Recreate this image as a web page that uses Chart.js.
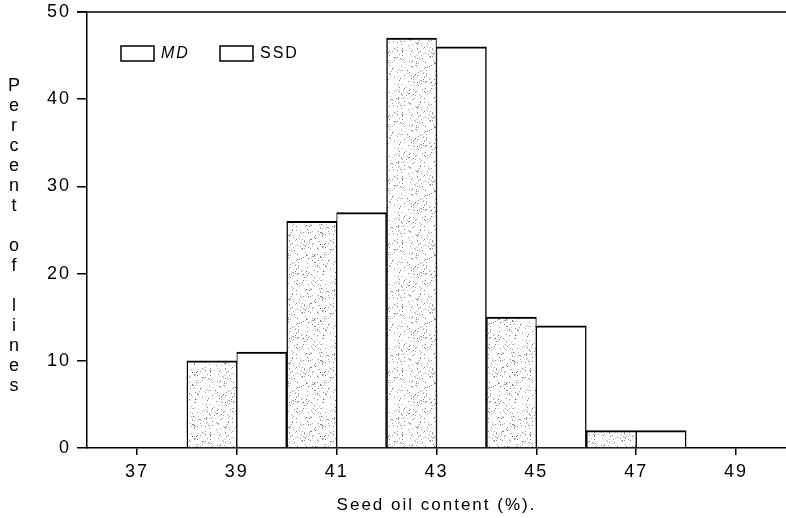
<!DOCTYPE html>
<html><head><meta charset="utf-8">
<script src="https://cdn.jsdelivr.net/npm/chart.js@4.4.0/dist/chart.umd.min.js"></script>
<style>html,body{margin:0;padding:0;background:#fff;} canvas{display:block;}</style>
</head><body>
<canvas id="c" width="786" height="518"></canvas>
<script>
// ---- data ----
const categories = ['37','39','41','43','45','47','49'];
const seriesNames = ['MD','SSD'];
const mdValues  = [0,10,26,47,15,2,0];
const ssdValues = [0,11,27,46,14,2,0];
const yTickValues = [0,10,20,30,40,50];
const xTitle = 'Seed oil content (%).';
const yTitle = 'Percent of lines';

// ---- styling ----
const FONT = "'Liberation Sans', Arial, Helvetica, sans-serif";
Chart.defaults.font.family = FONT;
Chart.defaults.color = '#000';

function makeStipple(ctx){
  const c = document.createElement('canvas'); c.width = 64; c.height = 64;
  const g = c.getContext('2d');
  g.fillStyle = '#fff'; g.fillRect(0,0,64,64);
  for (let y=0;y<64;y++) for (let x=0;x<64;x++){
    let h = (Math.imul(x,374761393) + Math.imul(y,668265263)) >>> 0;
    h = Math.imul(h ^ (h>>>13), 1274126177) >>> 0;
    h = (h ^ (h>>>16)) >>> 0;
    const r = h % 1000;
    if (r < 110){ const s = 110 + (r*7 % 110); g.fillStyle = `rgb(${s},${s},${s})`; g.fillRect(x,y,1,1); }
  }
  return ctx.createPattern(c,'repeat');
}

const ctx = document.getElementById('c').getContext('2d');
const stipple = makeStipple(ctx);

const spacingPlugin = { id:'spacing', beforeDraw(chart){ chart.ctx.letterSpacing = '2px'; } };

const decor = { id:'decor', afterDraw(chart){
  const c = chart.ctx, a = chart.chartArea;
  c.save();
  c.letterSpacing = '0px';
  c.strokeStyle = '#000'; c.lineWidth = 1.5;
  c.beginPath(); c.moveTo(a.left - 10, a.top); c.lineTo(a.right, a.top); c.stroke();
  // vertical stacked y title
  c.font = `18px ${FONT}`; c.fillStyle = '#000'; c.textAlign = 'center'; c.textBaseline = 'middle';
  let y = 86;
  for (const ch of yTitle){ if (ch !== ' ') c.fillText(ch, 14, y); y += 20; }
  // legend
  const items = [
    {name: seriesNames[0], x: 121, italic: true},
    {name: seriesNames[1], x: 220, italic: false}
  ];
  c.lineWidth = 1.5;
  c.textAlign = 'left';
  for (const it of items){
    c.fillStyle = '#fff';
    c.fillRect(it.x, 46, 33, 15);
    c.strokeRect(it.x, 46, 33, 15);
    c.fillStyle = '#000';
    c.letterSpacing = '2px';
    c.font = `${it.italic ? 'italic ' : ''}16px ${FONT}`;
    c.fillText(it.name, it.x + 40, 54);
  }
  c.restore();
}};

new Chart(ctx, {
  type: 'bar',
  data: {
    labels: categories,
    datasets: [
      { label: seriesNames[0], data: mdValues, backgroundColor: stipple, borderColor: '#000',
        borderWidth: {left:1.5, right:1, top:2, bottom:0}, borderSkipped: false,
        categoryPercentage: 1, barPercentage: 1 },
      { label: seriesNames[1], data: ssdValues, backgroundColor: '#fff', borderColor: '#000',
        borderWidth: {left:1, right:1.5, top:2, bottom:0}, borderSkipped: false,
        categoryPercentage: 1, barPercentage: 1 }
    ]
  },
  options: {
    responsive: false,
    animation: false,
    devicePixelRatio: 1,
    layout: { padding: { top: 12, right: 0, left: 0, bottom: 0 } },
    plugins: { legend: { display: false }, tooltip: { enabled: false } },
    scales: {
      x: {
        grid: { drawOnChartArea: false, offset: false, tickLength: 7, color: '#000', lineWidth: 1.5 },
        border: { color: '#000', width: 1.5 },
        ticks: { padding: 6, font: { size: 18 }, maxRotation: 0, autoSkip: false, color: '#000' },
        title: { display: true, text: xTitle, font: { size: 17 }, padding: { top: 0, bottom: 2 }, color: '#000' },
        afterFit(s){ s.height = 70; s.paddingLeft = 0; s.paddingRight = 0; }
      },
      y: {
        min: 0, max: 50,
        afterBuildTicks(s){ s.ticks = yTickValues.map(v => ({ value: v })); },
        grid: { drawOnChartArea: false, tickLength: 10, color: '#000', lineWidth: 1.5 },
        border: { color: '#000', width: 1.5 },
        ticks: { padding: 6, font: { size: 18 }, color: '#000' },
        afterFit(s){ s.width = 87; s.paddingTop = 0; s.paddingBottom = 0; }
      }
    }
  },
  plugins: [spacingPlugin, decor]
});
</script>
</body></html>
